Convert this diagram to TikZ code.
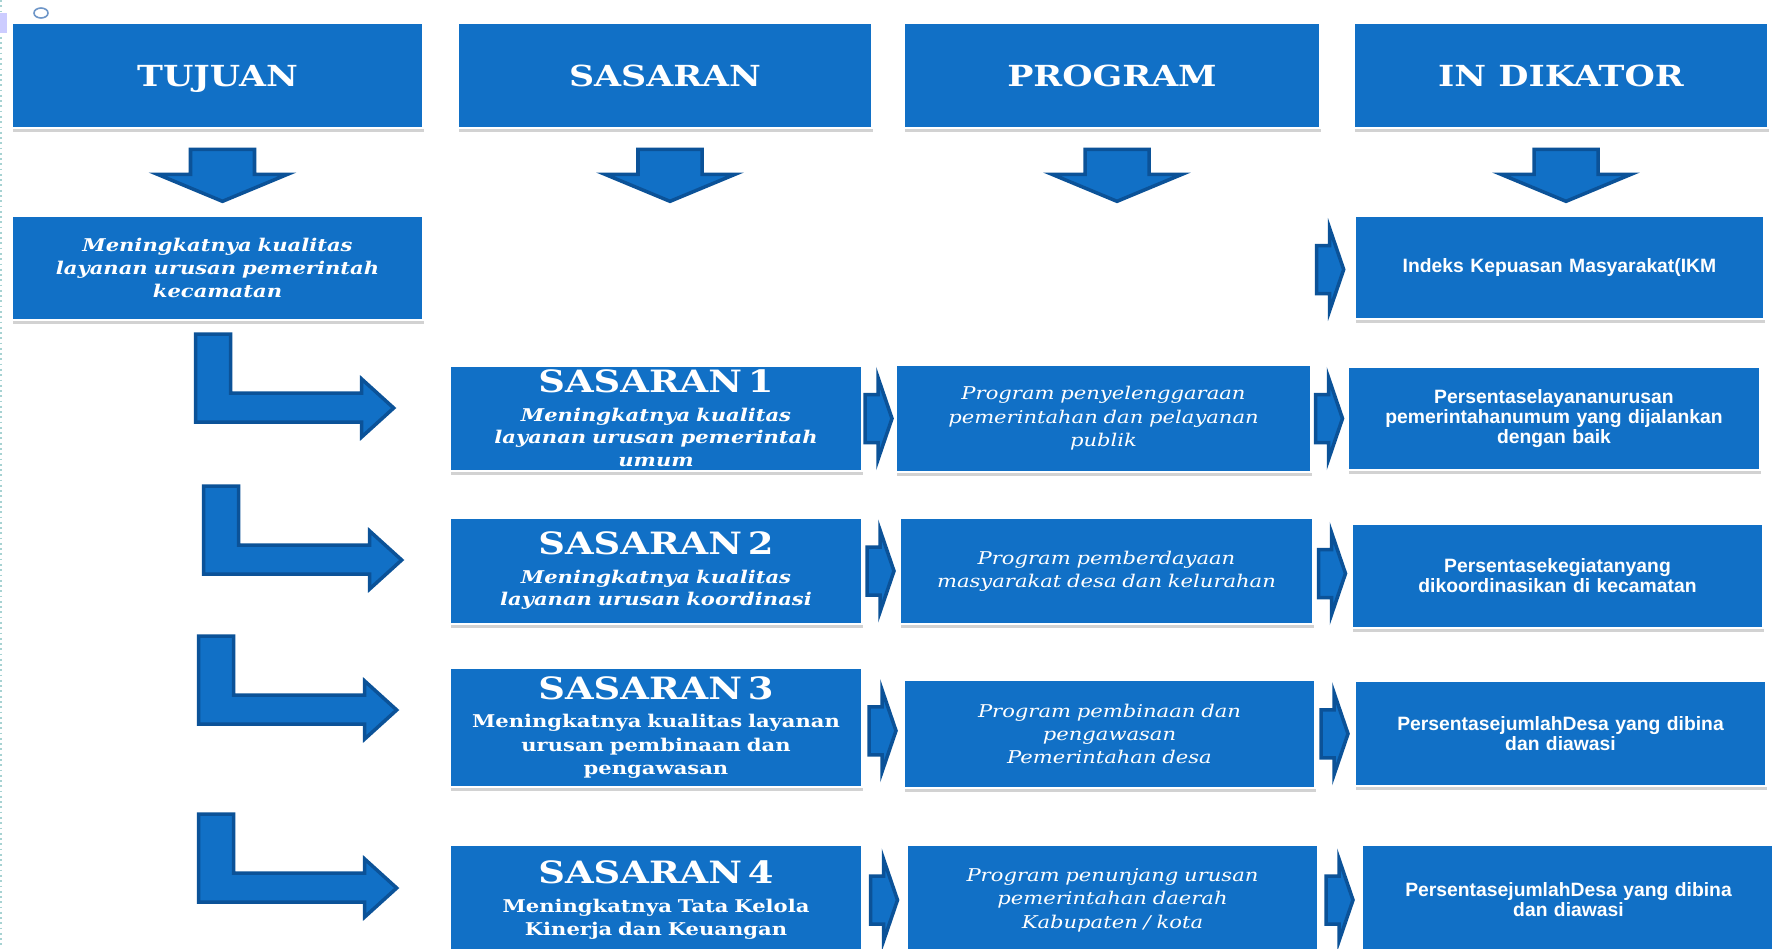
\documentclass[tikz,border=0pt]{standalone}
\usepackage{fontspec}
\setmainfont{DejaVu Serif}
\newfontfamily\seriflebar{DejaVu Serif}[FakeStretch=1.2]
\newfontfamily\sanstebal{Liberation Sans}
\usetikzlibrary{calc,shadows}
\definecolor{kotakbiru}{RGB}{17,112,198}
\definecolor{tepibiru}{RGB}{11,82,152}
\definecolor{cincin}{RGB}{110,150,200}
\tikzset{%
  kotak/.style 2 args={rectangle,fill=kotakbiru,draw=white,line width=1.5pt,
    drop shadow={shadow xshift=0.8pt,shadow yshift=-2.4pt,opacity=0.35},
    text=white,align=center,inner sep=0pt,
    minimum width=#1*0.02cm,minimum height=#2*0.02cm},
  judul/.style={font=\seriflebar\bfseries\fontsize{16.5}{19}\selectfont,
    text height=12pt,text depth=0pt},
  sasaran/.style={text width=7.9cm,font=\seriflebar\bfseries\itshape\fontsize{10}{13}\selectfont},
  sasarantegak/.style={text width=7.9cm,font=\seriflebar\bfseries\fontsize{10}{13.3}\selectfont},
  program/.style={text width=7.9cm,font=\seriflebar\itshape\fontsize{10}{13.3}\selectfont},
  indikator/.style={text width=7.9cm,font=\sanstebal\bfseries\fontsize{11}{11.6}\selectfont},
  rapat/.style={font=\sanstebal\bfseries\fontsize{11}{8.6}\selectfont},
  panah/.style={fill=kotakbiru,draw=tepibiru,line width=2pt,line join=miter},
  panahkanan/.pic={\draw[panah] (-14,-24) -- (-1,-24) -- (-1,-41) -- (13,0)
    -- (-1,41) -- (-1,24) -- (-14,24) -- cycle;},
  panahbawah/.pic={\draw[panah] (-32,0) -- (32,0) -- (32,25) -- (65,25)
    -- (0,52) -- (-65,25) -- (-32,25) -- cycle;},
  panahsiku/.pic={\draw[panah] (0,0) -- (35,0) -- (35,59) -- (166,59) -- (166,45)
    -- (198,74) -- (166,103) -- (166,88) -- (0,88) -- cycle;}
}
\newcommand{\judulsas}[1]{{\fontsize{17.5}{19}\selectfont\upshape #1}\\[3pt]}

\begin{document}
\begin{tikzpicture}[x=0.02cm,y=-0.02cm]
    \useasboundingbox (0,0) rectangle (1772,948);
    \clip (0,0) rectangle (1772,948);
    \fill[white] (0,0) rectangle (1772,948);
    \draw[teal!35,line width=1pt,dotted] (1,0) -- (1,948);
    \fill[blue!20] (0,13) rectangle (7,33);
    \draw[cincin,line width=0.9pt] (41,13) ellipse (7 and 5);
    %
    % header
    \node[kotak={411}{105},judul] (hTuj) at (217.5,75.5) {TUJUAN};
    \node[kotak={414}{105},judul] (hSas) at (665,75.5) {SASARAN};
    \node[kotak={416}{105},judul] (hProg) at (1112,75.5) {PROGRAM};
    \node[kotak={414}{105},judul] (hInd) at (1561,75.5) {IN DIKATOR};
    \foreach \h in {hTuj,hSas,hProg,hInd}
      \pic at ($(\h.south)+(5,20)$) {panahbawah};
    %
    % tujuan dan indikator utama
    \node[kotak={411}{104},sasaran] (tuj) at (217.5,268)
      {Meningkatnya  kualitas\\layanan urusan pemerintah\\kecamatan};
    \node[kotak={409}{103},indikator] (ikm) at (1559.5,267.5)
      {Indeks Kepuasan Masyarakat(IKM};
    \pic at ($(ikm.west)+(-23,2)$) {panahkanan};
    %
    % baris sasaran 1
    \node[kotak={412}{105},sasaran] (s1) at (656,418.5)
      {\judulsas{SASARAN 1}Meningkatnya  kualitas\\layanan urusan pemerintah\\umum};
    \node[kotak={415}{107},program] (p1) at (1103.5,418.5)
      {Program  penyelenggaraan\\pemerintahan  dan pelayanan\\publik};
    \node[kotak={412}{103},indikator] (i1) at (1554,418.5)
      {Persentaselayananurusan\\pemerintahanumum yang dijalankan\\dengan baik};
    %
    % baris sasaran 2
    \node[kotak={412}{106},sasaran] (s2) at (656,571)
      {\judulsas{SASARAN 2}Meningkatnya  kualitas\\layanan urusan koordinasi};
    \node[kotak={413}{106},program] (p2) at (1106.5,571)
      {Program  pemberdayaan\\masyarakat  desa dan  kelurahan};
    \node[kotak={411}{104},indikator,rapat] (i2) at (1557.5,576)
      {Persentasekegiatanyang\\dikoordinasikan di kecamatan};
    %
    % baris sasaran 3
    \node[kotak={412}{119},sasarantegak] (s3) at (656,727.5)
      {\judulsas{SASARAN 3}Meningkatnya kualitas layanan\\urusan  pembinaan dan\\pengawasan};
    \node[kotak={411}{108},program] (p3) at (1109.5,734)
      {Program  pembinaan  dan\\pengawasan\\Pemerintahan  desa};
    \node[kotak={411}{105},indikator,rapat] (i3) at (1560.5,733.5)
      {PersentasejumlahDesa yang dibina\\dan diawasi};
    %
    % baris sasaran 4
    \node[kotak={412}{110},sasarantegak] (s4) at (656,900)
      {\judulsas{SASARAN 4}Meningkatnya Tata Kelola\\Kinerja  dan  Keuangan};
    \node[kotak={411}{110},program] (p4) at (1112.5,900)
      {Program  penunjang urusan\\pemerintahan  daerah\\Kabupaten / kota};
    \node[kotak={413}{110},indikator,rapat] (i4) at (1568.5,900)
      {PersentasejumlahDesa yang dibina\\dan diawasi};
    %
    % panah antar kolom
    \foreach \a/\b in {s1/p1,p1/i1,s2/p2,p2/i2,s3/p3,p3/i3,s4/p4,p4/i4}
      \pic at ($(\a.east)!0.5!(\b.west)$) {panahkanan};
    % panah siku dari tujuan
    \pic at ($(s1.west)+(-253,-84.5)$) {panahsiku};
    \pic at ($(s2.west)+(-245,-85)$) {panahsiku};
    \pic at ($(s3.west)+(-250,-91.5)$) {panahsiku};
    \pic at ($(s4.west)+(-250,-86)$) {panahsiku};
  \end{tikzpicture}
\end{document}
